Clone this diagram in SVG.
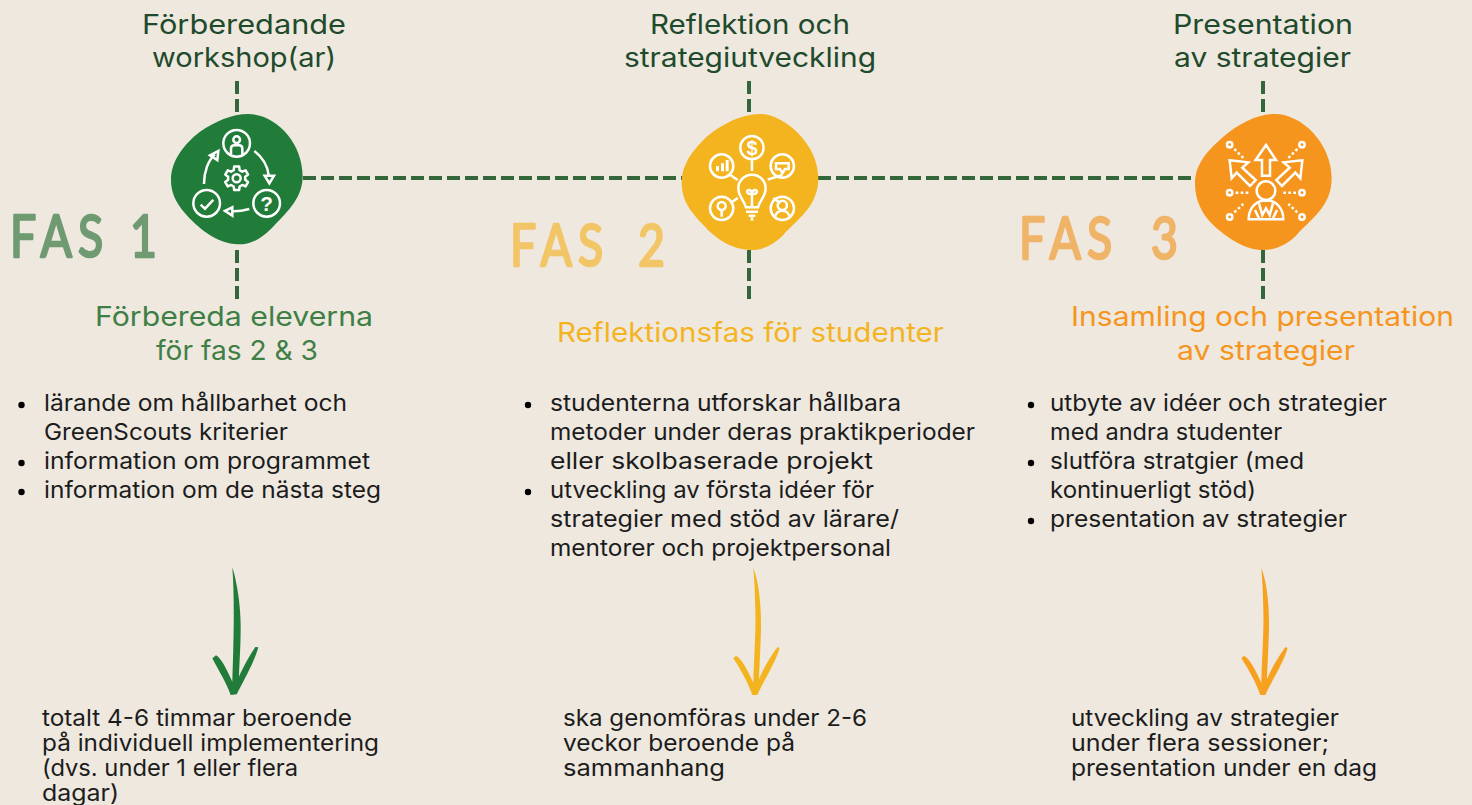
<svg xmlns="http://www.w3.org/2000/svg" width="1472" height="805" viewBox="0 0 1472 805">
<style>
text{font-family:"Inter","Noto Sans",sans-serif;}
.h{font-size:27px;fill:#1f4a2b;}
.s1{font-size:27px;fill:#3f7f45;}
.s2{font-size:27px;fill:#f4b41f;}
.s3{font-size:27px;fill:#f6951d;}
.b{font-size:23px;fill:#1c1c1c;}
.f{font-family:"Lato",sans-serif;font-size:58px;font-weight:400;stroke-width:2.500;stroke-linejoin:round;stroke-linecap:round;}
.i{fill:none;stroke:#fff;stroke-width:7.500;stroke-linecap:butt;stroke-linejoin:miter;}
.w{fill:#fff;}
.d{fill:none;stroke:#33673b;stroke-width:4;stroke-dasharray:13 5;}
</style>
<rect width="1472" height="805" fill="#eee8df"/>
<g id="connectors">
<path class="d" d="M237 81V114M237 250V300M749 81V114M749 250V300M1263 81V114M1263 250V300M303 178H682M818 178H1196"/>
</g>
<g id="node-fas1">
<text class="h" x="142" y="34" textLength="204" lengthAdjust="spacingAndGlyphs">Förberedande</text>
<text class="h" x="152" y="67" textLength="184" lengthAdjust="spacingAndGlyphs">workshop(ar)</text>
<g transform="translate(160 100) scale(.3333)">
<path fill="#217b39" d="M265 42C345 42 428 125 428 230C428 300 370 345 335 385C300 420 270 433 235 433C170 433 110 380 75 340C45 305 33 275 33 240C33 180 75 130 120 95C165 65 215 42 265 42Z"/>
<circle class="i" cx="230" cy="130" r="40"/><circle class="i" cx="230" cy="119" r="10"/><path class="i" d="M213 164V146Q213 136 223 136H237Q247 136 247 146V164"/>
<circle class="i" cx="320" cy="310" r="40"/><circle class="i" cx="140" cy="310" r="40"/><path class="i" d="M122 314L135 326L160 300"/>
<text x="320" y="332" font-size="62" font-weight="700" fill="#fff" text-anchor="middle" style="font-family:'Liberation Sans',sans-serif">?</text>
<circle class="i" cx="230" cy="235" r="12"/>
<path class="i" transform="translate(230 235)" style="stroke-linejoin:round" d="M-8.900-24.400L-7.500-35.200L7.500-35.200L8.900-24.400L16.700-19.900L26.800-24.100L34.200-11.100L25.600-4.500L25.600 4.500L34.200 11.100L26.800 24.100L16.700 19.900L8.900 24.400L7.500 35.200L-7.500 35.200L-8.900 24.400L-16.700 19.900L-26.800 24.100L-34.200 11.100L-25.600 4.500L-25.600-4.500L-34.200-11.100L-26.800-24.100L-16.700-19.900Z"/>
<path class="i" d="M132 252C132 215 145 180 165 163M283 153C305 170 322 195 326 225M268 327C250 332 235 335 218 334"/>
<path class="i" d="M150 166L175 153L172 180ZM314 227H342L328 250ZM217 322V347L195 333Z"/>
</g>
<g transform="translate(10 257) scale(.8 1)"><text class="f" fill="#6f9a72" stroke="#6f9a72" x="0 38 85 120 150" y="0">FAS 1</text></g>
<text class="s1" x="95" y="326" textLength="278" lengthAdjust="spacingAndGlyphs">Förbereda eleverna</text>
<text class="s1" x="156" y="360" textLength="162" lengthAdjust="spacingAndGlyphs">för fas 2 &amp; 3</text>
<g>
<circle cx="21.500" cy="405" r="3.200"/><circle cx="21.500" cy="463" r="3.200"/><circle cx="21.500" cy="492" r="3.200"/>
<text class="b" x="44" y="411" textLength="303" lengthAdjust="spacingAndGlyphs">lärande om hållbarhet och</text>
<text class="b" x="44" y="440" textLength="244" lengthAdjust="spacingAndGlyphs">GreenScouts kriterier</text>
<text class="b" x="44" y="469" textLength="326" lengthAdjust="spacingAndGlyphs">information om programmet</text>
<text class="b" x="44" y="498" textLength="337" lengthAdjust="spacingAndGlyphs">information om de nästa steg</text>
</g>
<path fill="#217b39" transform="translate(190 560) scale(.3333)" d="M127 22C142 70 152 140 152 200C152 260 148 310 147 350C160 320 180 285 196 261L205 262C195 300 165 355 140 403L122 405C110 370 85 330 67 295L78 286C95 295 113 335 127 365C130 270 135 130 127 22Z"/>
<text class="b" x="42" y="726" textLength="310" lengthAdjust="spacingAndGlyphs">totalt 4-6 timmar beroende</text>
<text class="b" x="42" y="751" textLength="337" lengthAdjust="spacingAndGlyphs">på individuell implementering</text>
<text class="b" x="42" y="776" textLength="256" lengthAdjust="spacingAndGlyphs">(dvs. under 1 eller flera</text>
<text class="b" x="42" y="801" textLength="77" lengthAdjust="spacingAndGlyphs">dagar)</text>
</g>
<g id="node-fas2">
<text class="h" x="650" y="34" textLength="200" lengthAdjust="spacingAndGlyphs">Reflektion och</text>
<text class="h" x="624" y="67" textLength="252" lengthAdjust="spacingAndGlyphs">strategiutveckling</text>
<g transform="translate(670 100) scale(.3333)">
<path fill="#f4b41f" d="M270 42C340 42 445 130 445 235C445 320 380 360 340 405C310 435 280 450 245 450C190 450 140 420 100 375C60 335 35 300 35 250C35 190 70 150 110 110C160 70 215 42 270 42Z"/>
<circle class="i" cx="246" cy="143" r="35"/>
<text x="246" y="165" font-size="60" font-weight="700" fill="#fff" text-anchor="middle" style="font-family:'Liberation Sans',sans-serif">$</text>
<circle class="i" cx="155" cy="198" r="35"/><path class="i" d="M181 225L203 240M246 181V213M337 225L293 239"/>
<path class="w" d="M138 198h9v16h-9zM153 190h9v24h-9zM167 180h9v34h-9z"/>
<circle class="i" cx="337" cy="198" r="35"/><path class="i" d="M318 190H356V207H345L337 220L330 207H318Z"/>
<circle class="i" cx="155" cy="325" r="35"/><circle class="i" cx="155" cy="318" r="12"/><path class="i" d="M155 330V350M181 310L203 294"/>
<circle class="i" cx="337" cy="325" r="35"/><circle class="i" cx="337" cy="316" r="14"/><path class="i" d="M315 350Q320 332 337 332Q354 332 359 350M310 294L331 310"/>
<path class="i" d="M228 322C222 300 205 290 205 265A41 41 0 0 1 287 265C287 290 270 300 264 322ZM246 320V280M232 272Q238 266 246 276Q254 266 260 272Q262 282 250 282H242Q230 282 232 272ZM228 335H264M236 347H256"/>
<path class="w" d="M242 352h8v10h-8z"/>
</g>
<g transform="translate(510 266) scale(.8 1)"><text class="f" fill="#f2c566" stroke="#f2c566" x="0 38 85 120 160" y="0">FAS 2</text></g>
<text class="s2" x="557" y="342" textLength="387" lengthAdjust="spacingAndGlyphs">Reflektionsfas för studenter</text>
<g>
<circle cx="528" cy="405" r="3.200"/><circle cx="528" cy="492" r="3.200"/>
<text class="b" x="550" y="411" textLength="351" lengthAdjust="spacingAndGlyphs">studenterna utforskar hållbara</text>
<text class="b" x="550" y="440" textLength="425" lengthAdjust="spacingAndGlyphs">metoder under deras praktikperioder</text>
<text class="b" x="550" y="469" textLength="323" lengthAdjust="spacingAndGlyphs">eller skolbaserade projekt</text>
<text class="b" x="550" y="498" textLength="324" lengthAdjust="spacingAndGlyphs">utveckling av första idéer för</text>
<text class="b" x="550" y="527" textLength="349" lengthAdjust="spacingAndGlyphs">strategier med stöd av lärare/</text>
<text class="b" x="550" y="556" textLength="341" lengthAdjust="spacingAndGlyphs">mentorer och projektpersonal</text>
</g>
<path fill="#f4b41f" transform="translate(700 560) scale(.3333)" d="M160 24C175 60 184 130 183 200C182 260 178 320 177 358C190 325 215 285 232 262L239 263C230 300 195 355 172 405L157 405C145 370 120 325 100 295L108 287C125 295 145 335 160 368C162 290 168 210 166 150C165 100 163 60 160 24Z"/>
<text class="b" x="563" y="726" textLength="304" lengthAdjust="spacingAndGlyphs">ska genomföras under 2-6</text>
<text class="b" x="563" y="751" textLength="232" lengthAdjust="spacingAndGlyphs">veckor beroende på</text>
<text class="b" x="563" y="776" textLength="162" lengthAdjust="spacingAndGlyphs">sammanhang</text>
</g>
<g id="node-fas3">
<text class="h" x="1173" y="34" textLength="180" lengthAdjust="spacingAndGlyphs">Presentation</text>
<text class="h" x="1174" y="67" textLength="177" lengthAdjust="spacingAndGlyphs">av strategier</text>
<g transform="translate(1185 100) scale(.3333)">
<path fill="#f6951d" d="M270 42C350 42 440 130 440 235C440 320 375 360 335 405C305 435 270 450 235 450C180 450 130 415 90 380C50 345 30 300 30 250C30 190 70 150 115 110C165 70 215 42 270 42Z"/>
<path class="i" d="M243 135L273 180H255V227H231V180H212Z"/>
<path class="i" d="M134 181L190 187L172 203L212 240L195 258L155 218L140 235Z"/>
<path class="i" d="M352 181L296 187L314 203L274 240L291 258L331 218L346 235Z"/>
<circle class="i" cx="243" cy="272" r="28"/>
<path class="i" d="M191 358C191 325 212 305 232 302H254C274 305 295 325 295 358ZM222 310L232 345L243 325L254 345L264 310M210 330L222 355M276 330L264 355"/>
<circle class="i" cx="134" cy="134" r="8"/><circle class="i" cx="351" cy="134" r="8"/><circle class="i" cx="134" cy="278" r="8"/><circle class="i" cx="351" cy="278" r="8"/><circle class="i" cx="134" cy="351" r="8"/><circle class="i" cx="351" cy="351" r="8"/>
<path class="i" stroke-dasharray="8 7" d="M148 147L175 174M337 147L310 174M152 278H192M333 278H294M148 337L175 312M337 337L310 312"/>
</g>
<g transform="translate(1019 259) scale(.8 1)"><text class="f" fill="#f0b469" stroke="#f0b469" x="0 38 85 120 165" y="0">FAS 3</text></g>
<text class="s3" x="1071" y="326" textLength="383" lengthAdjust="spacingAndGlyphs">Insamling och presentation</text>
<text class="s3" x="1177" y="360" textLength="178" lengthAdjust="spacingAndGlyphs">av strategier</text>
<g>
<circle cx="1031" cy="405" r="3.200"/><circle cx="1031" cy="463" r="3.200"/><circle cx="1031" cy="521" r="3.200"/>
<text class="b" x="1050" y="411" textLength="337" lengthAdjust="spacingAndGlyphs">utbyte av idéer och strategier</text>
<text class="b" x="1050" y="440" textLength="232" lengthAdjust="spacingAndGlyphs">med andra studenter</text>
<text class="b" x="1050" y="469" textLength="254" lengthAdjust="spacingAndGlyphs">slutföra stratgier (med</text>
<text class="b" x="1050" y="498" textLength="206" lengthAdjust="spacingAndGlyphs">kontinuerligt stöd)</text>
<text class="b" x="1050" y="527" textLength="297" lengthAdjust="spacingAndGlyphs">presentation av strategier</text>
</g>
<path fill="#f6a21f" transform="translate(1208 560) scale(.3333)" d="M160 24C175 60 184 130 183 200C182 260 178 320 177 358C190 325 215 285 232 262L239 263C230 300 195 355 172 405L157 405C145 370 120 325 100 295L108 287C125 295 145 335 160 368C162 290 168 210 166 150C165 100 163 60 160 24Z"/>
<text class="b" x="1071" y="726" textLength="268" lengthAdjust="spacingAndGlyphs">utveckling av strategier</text>
<text class="b" x="1071" y="751" textLength="258" lengthAdjust="spacingAndGlyphs">under flera sessioner;</text>
<text class="b" x="1071" y="776" textLength="306" lengthAdjust="spacingAndGlyphs">presentation under en dag</text>
</g>
</svg>
